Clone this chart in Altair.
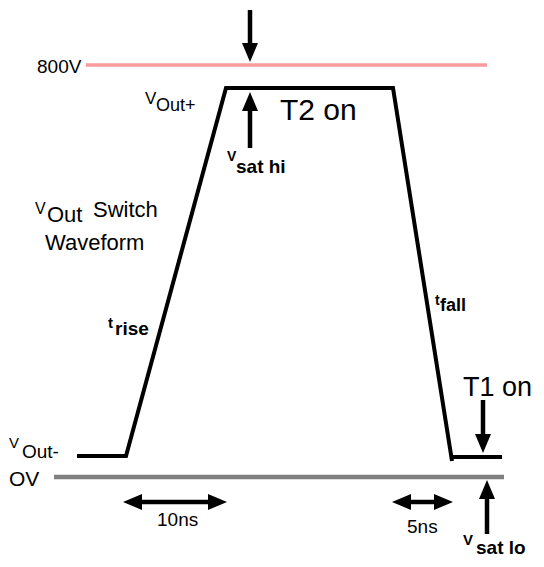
import altair as alt
import pandas as pd

# Diagram coordinates (x to the right, y downward), read off the reference
# ---- waveform polyline: V_out- level, rise, V_out+ plateau, fall
wave_x = [77, 126, 226, 393, 452]
wave_y = [456, 456, 88, 88, 461]

# ---- T1-on low plateau
low_x1 = [450]
low_x2 = [502]
low_y = [457]

# ---- reference levels (800V and 0V)
ref_name = ["800V", "0V"]
ref_x1 = [86, 54]
ref_x2 = [487, 504]
ref_y = [65, 477]
ref_color = ["#F89B9B", "#808080"]
ref_width = [3.5, 4.5]

# ---- single vertical arrows (tail -> tip)
varrow_x = [250, 250, 483, 487]
varrow_tail = [10, 148, 400, 534]
varrow_tip = [62, 92, 453, 480]

# ---- double-headed horizontal arrows (time spans)
harrow_left = [123, 392]
harrow_right = [227, 453]
harrow_y = [502, 502]

# ---- labels: text, x (left), y (baseline), font size
lab_text = ["800V", "V", "Out+", "T2 on", "V", "Out", "Switch", "Waveform",
            "T1 on", "V", "Out-", "OV", "10ns", "5ns"]
lab_x = [37, 145, 156, 280, 35, 47, 93, 45, 463, 9, 22, 9, 157, 407]
lab_y = [73, 104, 111, 120, 214, 222, 217, 250, 396, 448, 458, 486, 526, 533]
lab_fs = [19, 17, 18, 30, 16, 22, 22, 22, 27, 15, 19, 21, 19, 19]

# ---- bold labels
blab_text = ["V", "sat hi", "t", "rise", "t", "fall", "V", "sat lo"]
blab_x = [227, 236, 108, 115, 435, 440, 463, 476]
blab_y = [161, 173, 328, 335, 305, 311, 545, 554]
blab_fs = [14, 19, 15, 19, 14, 18, 15, 19]

HEAD_LEN = 19
HEAD_W = 16

xs = alt.Scale(domain=[8, 536], nice=False, zero=False)
ys = alt.Scale(domain=[8, 559], nice=False, zero=False, reverse=True)


def X(f="x"):
    return alt.X(f"{f}:Q", scale=xs, axis=None)


def Y(f="y"):
    return alt.Y(f"{f}:Q", scale=ys, axis=None)


wave = pd.DataFrame({"x": wave_x, "y": wave_y, "i": range(len(wave_x))})
low = pd.DataFrame({"x": low_x1, "x2": low_x2, "y": low_y})
ref = pd.DataFrame({"name": ref_name, "x": ref_x1, "x2": ref_x2, "y": ref_y,
                    "c": ref_color, "w": ref_width})

k = round(HEAD_W / HEAD_LEN, 3)
down_path = f"M-{k},-1L{k},-1L0,1Z"
up_path = f"M-{k},1L{k},1L0,-1Z"
left_path = f"M1,-{k}L1,{k}L-1,0Z"
right_path = f"M-1,-{k}L-1,{k}L1,0Z"

shafts, heads = [], []
for x, t, p in zip(varrow_x, varrow_tail, varrow_tip):
    d = 1 if p > t else -1
    shafts.append({"x": x, "x2": x, "y": t, "y2": p - d * (HEAD_LEN - 2)})
    heads.append({"x": x, "y": p - d * HEAD_LEN / 2,
                  "shape": down_path if d == 1 else up_path})
for l, r, y in zip(harrow_left, harrow_right, harrow_y):
    shafts.append({"x": l + HEAD_LEN - 2, "x2": r - HEAD_LEN + 2, "y": y, "y2": y})
    heads.append({"x": l + HEAD_LEN / 2, "y": y, "shape": left_path})
    heads.append({"x": r - HEAD_LEN / 2, "y": y, "shape": right_path})
shafts = pd.DataFrame(shafts)
heads = pd.DataFrame(heads)

labs = pd.DataFrame({"t": lab_text, "x": lab_x, "y": lab_y, "fs": lab_fs})
blabs = pd.DataFrame({"t": blab_text, "x": blab_x, "y": blab_y, "fs": blab_fs})

ref_layer = alt.Chart(ref).mark_rule(strokeCap="butt").encode(
    x=X(), x2="x2:Q", y=Y(),
    color=alt.Color("c:N", scale=None),
    strokeWidth=alt.StrokeWidth("w:Q", scale=None),
)
wave_layer = alt.Chart(wave).mark_line(
    color="black", strokeWidth=4, strokeJoin="miter", strokeCap="butt"
).encode(x=X(), y=Y(), order="i:Q")
low_layer = alt.Chart(low).mark_rule(
    color="black", strokeWidth=4, strokeCap="butt"
).encode(x=X(), x2="x2:Q", y=Y())
shaft_layer = alt.Chart(shafts).mark_rule(
    color="black", strokeWidth=4.5, strokeCap="butt"
).encode(x=X(), x2="x2:Q", y=Y(), y2="y2:Q")
head_layer = alt.Chart(heads).mark_point(
    filled=True, color="black", opacity=1, size=HEAD_LEN * HEAD_LEN, strokeWidth=0
).encode(x=X(), y=Y(), shape=alt.Shape("shape:N", scale=None))
text_layer = alt.Chart(labs).mark_text(
    align="left", baseline="alphabetic", font="Liberation Sans", color="black"
).encode(x=X(), y=Y(), text="t:N", size=alt.Size("fs:Q", scale=None))
btext_layer = alt.Chart(blabs).mark_text(
    align="left", baseline="alphabetic", font="Liberation Sans", color="black",
    fontWeight="bold"
).encode(x=X(), y=Y(), text="t:N", size=alt.Size("fs:Q", scale=None))

chart = alt.layer(
    ref_layer, wave_layer, low_layer, shaft_layer, head_layer, text_layer, btext_layer
).properties(
    width=528, height=551, padding=0,
    autosize=alt.AutoSizeParams(type="none"),
    background="white",
).configure_view(strokeWidth=0)

chart.save("out.html", embed_options={"renderer": "svg", "actions": False})
